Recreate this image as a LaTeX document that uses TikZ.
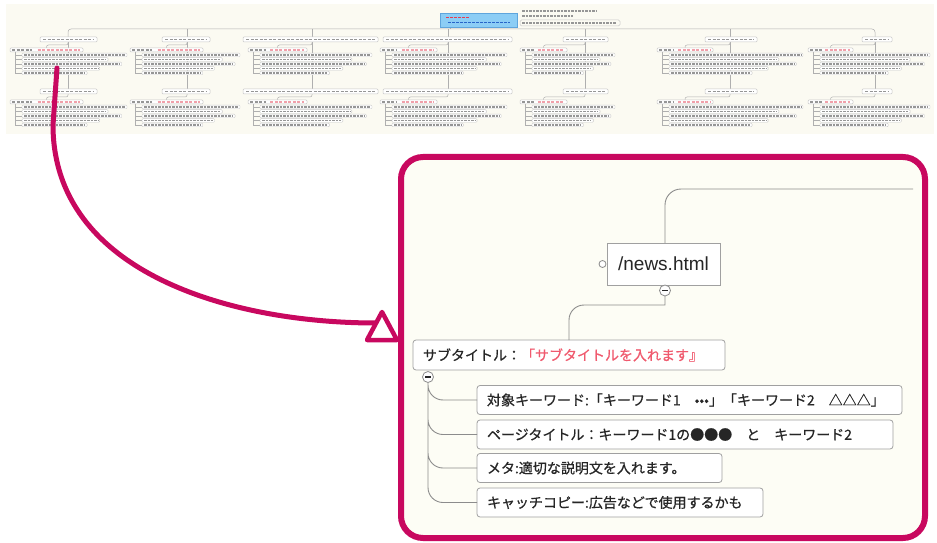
\documentclass[tikz,border=0pt]{standalone}
\usepackage{fontspec}
\setmainfont{Liberation Sans}
\newfontfamily\jpfont[FakeBold=0.6]{Noto Sans CJK JP}
\definecolor{cc8085f}{RGB}{200,8,95}
\definecolor{cfdfdf5}{RGB}{253,253,245}
\definecolor{cfbfaf2}{RGB}{251,250,242}
\definecolor{c8c8c8c}{RGB}{140,140,140}
\definecolor{ca0a0a0}{RGB}{160,160,160}
\definecolor{c262626}{RGB}{38,38,38}
\definecolor{cf05a6e}{RGB}{240,90,110}
\definecolor{cafafaf}{RGB}{175,175,175}
\definecolor{cc8c8c8}{RGB}{200,200,200}
\definecolor{c969696}{RGB}{150,150,150}
\definecolor{cf0a0aa}{RGB}{240,160,170}
\definecolor{c8ccdf5}{RGB}{140,205,245}
\definecolor{c5fa5dc}{RGB}{95,165,220}
\definecolor{ce63c50}{RGB}{230,60,80}
\definecolor{c2864c8}{RGB}{40,100,200}
\def \globalscale {1.000000}

\begin{document}
\begin{tikzpicture}[y=1pt, x=1pt, yscale=\globalscale,xscale=\globalscale, every node/.append style={scale=\globalscale}, inner sep=0pt, outer sep=0pt,
  itembox/.style={draw=ca0a0a0,fill=white,line width=0.8,rounded corners=3,inner xsep=10,minimum height=29,anchor=west,align=left,text=c262626,font=\jpfont\fontsize{14}{16}\selectfont},
  minusnode/.style={circle,draw=c8c8c8c,fill=white,line width=0.8,minimum size=11,path picture={\path[draw=c262626,line width=1.3] ([xshift=-3]path picture bounding box.center) -- ([xshift=3]path picture bounding box.center);}}]
  \useasboundingbox (0,0) rectangle (937,542);
  \path[fill=white] (0,0) rectangle (937,542);



  % overview of the whole map
  \path[fill=cfbfaf2] (6,538) rectangle (934,408);



  \path[draw=cafafaf,line width=0.5,rounded corners=3] (68,505) -- (68,513) 
  -- (875,513) -- (875,505);



  \path[draw=cafafaf,line width=0.5] (450,515) -- (450,513) (187,513) -- 
  (187,505) (312,513) -- (312,505) (448,513) -- (448,505) (585,513) -- 
  (585,505) (730,513) -- (730,505);



  \path[draw=c5fa5dc,fill=c8ccdf5,line width=0.6] (440,529) rectangle 
  (517,515);



  \path[draw=ce63c50,line width=1.6,dash pattern=on 3 off 1] (446,524.5) -- 
  (470,524.5);



  \path[draw=c2864c8,line width=1.4,dash pattern=on 3 off 1] (448,519.5) -- 
  (510,519.5);



  \path[draw=c969696,line width=1.2,dash pattern=on 2.5 off 1] (522,531) -- 
  (597,531) (522,526) -- (573,526) (522,519) -- (616,519);



  \path[draw=cc8c8c8,line width=0.5,rounded corners=1.5] (520,522) rectangle 
  (620,516);



  \foreach \cx/\pa/\pb/\sa/\sb/\cb in {68/40/97/10/83/127, 187/162/210/130/203/240,
    312/243/378/248/307/372, 448/383/512/380/437/507, 585/563/608/520/567/615,
    730/705/757/657/713/803, 875/862/892/808/853/930}{
    \path[draw=cafafaf,line width=0.5] (\cx,500) -- (\cx,453);
    \foreach \r in {0,52}{
      \begin{scope}[yshift=-\r]
        \path[draw=cafafaf,line width=0.5,rounded corners=2] (\cx,500) -- 
        (\cx,497) -| ({(\sa+\sb)/2},494);
        \path[draw=cafafaf,line width=0.5] (\sa+5,490) -- (\sa+5,469);
        \path[draw=cc8c8c8,fill=white,line width=0.5,rounded corners=1] (\pa,505) 
        rectangle (\pb,500);
        \path[draw=c969696,line width=1.4,dash pattern=on 3 off 1.5] (\pa+3,502.5) 
        -- (\pb-3,502.5);
        \path[draw=cc8c8c8,fill=white,line width=0.5,rounded corners=1] (\sa,494) 
        rectangle (\sb,490);
        \path[draw=c969696,line width=1.4,dash pattern=on 3 off 1.5] (\sa+2,492) 
        -- ({\sa+0.3*(\sb-\sa)},492);
        \path[draw=cf0a0aa,line width=1.4,dash pattern=on 3 off 1.5] 
        ({\sa+0.38*(\sb-\sa)},492) -- (\sb-3,492);
        \foreach \yy/\ff in {487/1.0,482.5/0.82,478/0.95,473.5/0.74,469/0.62}{
          \path[draw=cafafaf,line width=0.5] (\sa+5,\yy) -- (\sa+12,\yy);
          \path[draw=cc8c8c8,fill=white,line width=0.4,rounded corners=1] 
          (\sa+12,\yy+1.8) rectangle ({\sa+12+\ff*(\cb-\sa-12)},\yy-1.8);
          \path[draw=c969696,line width=1.2,dash pattern=on 2.5 off 1] 
          (\sa+14,\yy) -- ({\sa+10+\ff*(\cb-\sa-12)},\yy);
        }
      \end{scope}
    }
  }



  % pointer to the enlarged part
  \coordinate (zoomsrc) at (57,474);
  \coordinate (zoomtip) at (376,219);
  \path[draw=cc8085f,line cap=round,line width=5] (zoomsrc) -- (53,417) .. 
  controls (53,270) and (230,219) .. (zoomtip);



  \path[draw=cc8085f,fill=cfdfdf5,line width=6,rounded corners=22] (401,385) 
  rectangle (925,4);



  \path[draw=cc8085f,fill=white,line width=4.5,line join=round] (367,202) -- 
  (382,230) -- (397,202) -- cycle;



  % enlarged part
  \node[draw=ca0a0a0,fill=white,line width=0.9,minimum width=113,minimum 
  height=42,text=c262626,font=\fontsize{19}{22}\selectfont] (textnews) at 
  (663.5,278){/news.html};



  \node[circle,draw=c8c8c8c,fill=white,line width=0.8,minimum size=7] 
  (newsdot) at ([xshift=-4.5]textnews.west){};



  \node[minusnode] (newsminus) at ([xshift=1.5,yshift=-5.5]textnews.south){};



  \coordinate (newsend) at (913,353);
  \path[draw=c8c8c8c,line width=0.9,rounded corners=16] ([xshift=1.5]textnews.north) 
  |- (newsend);



  \node[itembox,text width=292,minimum height=30] (textsub) at (413,187)
  {\mbox{サブタイトル：\textcolor{cf05a6e}{「サブタイトルを入れます』}}};



  \path[draw=c8c8c8c,line width=0.9] (newsminus.south) -- (665,237) 
  [rounded corners=15] -| (textsub.north);



  \node[minusnode] (subminus) at ([xshift=15,yshift=-7]textsub.south west){};



  \node[itembox,text width=405] (textkw) at (477,142)
  {\mbox{対象キーワード:「キーワード1　•••」「キーワード2　△△△」}};



  \node[itembox,text width=396] (textpage) at (477,107.5)
  {\mbox{ページタイトル：キーワード1の●●●　と　キーワード2}};



  \node[itembox,text width=225] (textmeta) at (477,74)
  {\mbox{メタ:適切な説明文を入れます。}};



  \node[itembox,text width=266] (textcatch) at (477,39.5)
  {\mbox{キャッチコピー:広告などで使用するかも}};



  \path[draw=c8c8c8c,line width=0.9,rounded corners=15] (subminus.south) |- 
  (textcatch.west) (subminus.south) |- (textmeta.west) (subminus.south) |- 
  (textpage.west) (subminus.south) |- (textkw.west);




\end{tikzpicture}
\end{document}
